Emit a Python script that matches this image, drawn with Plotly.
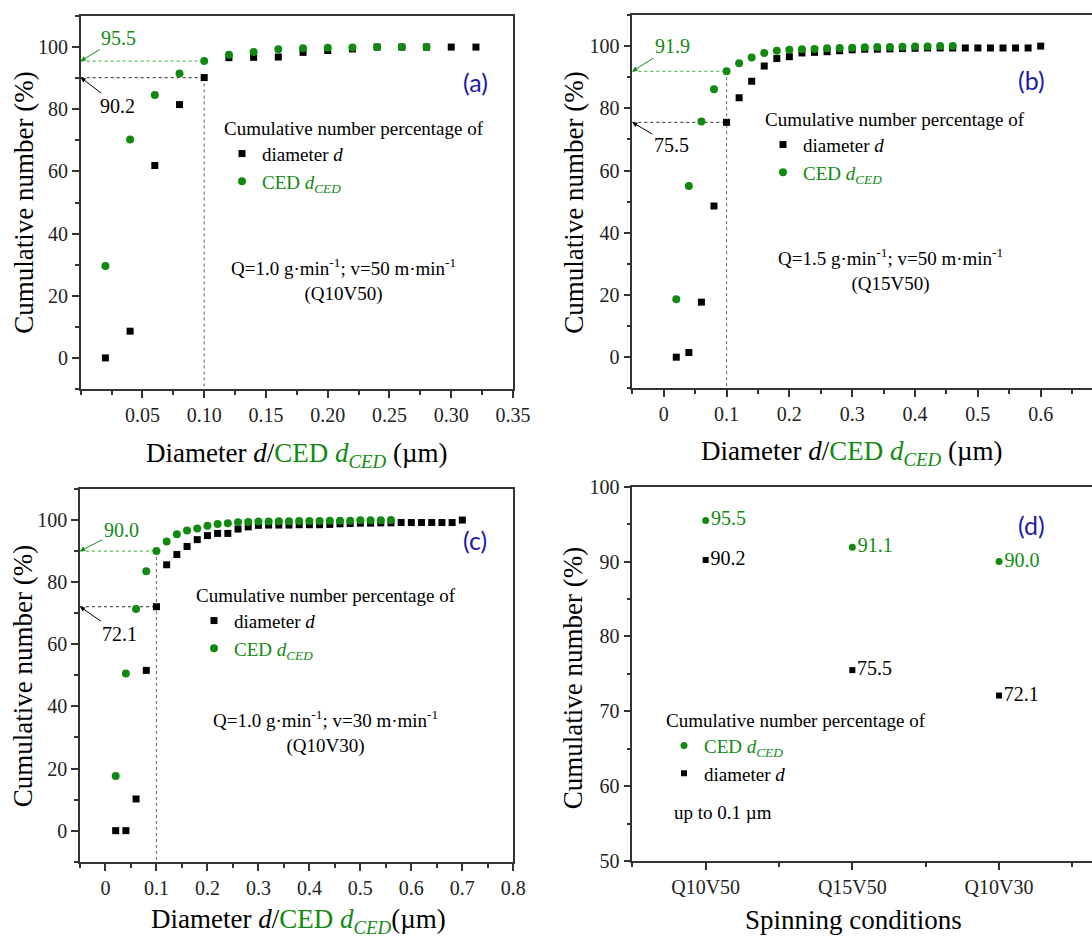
import plotly.graph_objects as go

# ---------------- data ----------------
# panel (a) Q10V50
x_a = [0.02, 0.04, 0.06, 0.08, 0.10, 0.12, 0.14, 0.16, 0.18, 0.20, 0.22, 0.24, 0.26, 0.28, 0.30, 0.32]
d_a = [0, 8.6, 61.9, 81.5, 90.2, 96.6, 96.7, 96.8, 98.3, 98.9, 99.4, 100, 100, 100, 100, 100]
ced_a = [29.6, 70.3, 84.6, 91.5, 95.5, 97.5, 98.4, 99.3, 99.6, 99.8, 99.9, 100, 100, 100]

# panel (b) Q15V50
x_b = [0.02, 0.04, 0.06, 0.08, 0.10, 0.12, 0.14, 0.16, 0.18, 0.20, 0.22, 0.24, 0.26, 0.28, 0.30,
       0.32, 0.34, 0.36, 0.38, 0.40, 0.42, 0.44, 0.46, 0.48, 0.50, 0.52, 0.54, 0.56, 0.58, 0.60]
d_b = [0, 1.5, 17.7, 48.6, 75.5, 83.4, 88.7, 93.6, 96.0, 96.6, 97.8, 98.0, 98.2, 98.5, 98.8,
       99.0, 99.0, 99.1, 99.2, 99.3, 99.4, 99.4, 99.4, 99.4, 99.4, 99.4, 99.4, 99.4, 99.4, 100]
ced_b = [18.6, 55.0, 75.8, 86.1, 91.9, 94.5, 96.3, 97.8, 98.5, 98.8, 99.0, 99.1, 99.3, 99.4, 99.5,
         99.6, 99.7, 99.7, 99.8, 99.9, 99.9, 100, 100]

# panel (c) Q10V30
x_c = [0.02, 0.04, 0.06, 0.08, 0.10, 0.12, 0.14, 0.16, 0.18, 0.20, 0.22, 0.24, 0.26, 0.28, 0.30,
       0.32, 0.34, 0.36, 0.38, 0.40, 0.42, 0.44, 0.46, 0.48, 0.50, 0.52, 0.54, 0.56, 0.58, 0.60,
       0.62, 0.64, 0.66, 0.68, 0.70]
d_c = [0, 0, 10.2, 51.6, 72.1, 85.6, 88.9, 91.5, 93.7, 95.0, 95.7, 95.7, 97.1, 97.8, 98.3,
       98.4, 98.4, 98.4, 98.5, 98.5, 98.5, 98.6, 98.8, 98.9, 99.0, 99.0, 99.1, 99.1, 99.2, 99.2,
       99.2, 99.2, 99.2, 99.2, 100]
ced_c = [17.6, 50.6, 71.4, 83.5, 90.0, 93.1, 95.4, 96.6, 97.3, 98.2, 98.7, 99.0, 99.3, 99.4, 99.5,
         99.5, 99.6, 99.6, 99.7, 99.7, 99.7, 99.8, 99.8, 99.8, 99.9, 99.9, 99.9, 100]

# panel (d) summary up to 0.1 um
conditions = ["Q10V50", "Q15V50", "Q10V30"]
ced_d = [95.5, 91.9, 90.0]
ced_d_labels = ["95.5", "91.1", "90.0"]
d_d = [90.2, 75.5, 72.1]
d_d_labels = ["90.2", "75.5", "72.1"]

threshold = 0.10

x_ticks_a = [0.05, 0.10, 0.15, 0.20, 0.25, 0.30, 0.35]
x_ticktext_a = ["0.05", "0.10", "0.15", "0.20", "0.25", "0.30", "0.35"]
x_ticks_b = [0.0, 0.1, 0.2, 0.3, 0.4, 0.5, 0.6]
x_ticks_c = [0.0, 0.1, 0.2, 0.3, 0.4, 0.5, 0.6, 0.7, 0.8]

# ---------------- style ----------------
GREEN = "#128a12"
BLACK = "#000000"
SERIF = "Liberation Serif"
AX = "#333333"
W, H = 1092, 938


def px_x(p):
    return p / W


def px_y(p):
    return 1 - p / H


dom = {
    "a": ([px_x(80.7), px_x(513)], [px_y(389), px_y(16)]),
    "b": ([px_x(632.3), 1.0], [px_y(388.3), px_y(15)]),
    "c": ([px_x(80), px_x(513.3)], [px_y(861.7), px_y(489)]),
    "d": ([px_x(632.3), 1.0], [px_y(861), px_y(486.7)]),
}

fig = go.Figure()

sq = dict(symbol="square", size=7, color=BLACK)
ci = dict(symbol="circle", size=8, color=GREEN)

d_name = "diameter <i>d</i>"
ced_name = '<span style="color:%s">CED <i>d<sub>CED</sub></i></span>' % GREEN

panels = [
    ("x", "y", "legend", x_a, d_a, ced_a),
    ("x2", "y2", "legend2", x_b, d_b, ced_b),
    ("x3", "y3", "legend3", x_c, d_c, ced_c),
]
for xr, yr, lg, xs, ds, cs in panels:
    fig.add_trace(go.Scatter(x=xs[:len(ds)], y=ds, mode="markers", marker=sq, name=d_name,
                             xaxis=xr, yaxis=yr, legend=lg, cliponaxis=False))
    fig.add_trace(go.Scatter(x=xs[:len(cs)], y=cs, mode="markers", marker=ci, name=ced_name,
                             xaxis=xr, yaxis=yr, legend=lg, cliponaxis=False))

# panel d
xd = list(range(len(conditions)))
fig.add_trace(go.Scatter(x=xd, y=ced_d, mode="markers+text", marker=dict(symbol="circle", size=7, color=GREEN),
                         text=ced_d_labels, textposition="middle right",
                         textfont=dict(family=SERIF, size=20, color=GREEN),
                         name=ced_name, xaxis="x4", yaxis="y4", legend="legend4"))
fig.add_trace(go.Scatter(x=xd, y=d_d, mode="markers+text", marker=dict(symbol="square", size=6, color=BLACK),
                         text=d_d_labels, textposition="middle right",
                         textfont=dict(family=SERIF, size=20, color=BLACK),
                         name=d_name, xaxis="x4", yaxis="y4", legend="legend4"))

tickfont = dict(family=SERIF, size=20, color="#222")


def xax(domain, anchor, rng, tickvals, ticktext=None, minor_dtick=None, mirror=True):
    d = dict(domain=domain, anchor=anchor, range=rng, showline=True, linecolor=AX, linewidth=1.6,
             mirror=mirror, ticks="outside", ticklen=7, tickwidth=1.5, tickcolor=AX,
             showgrid=False, zeroline=False, tickfont=tickfont, tickmode="array", tickvals=tickvals,
             automargin=False)
    if ticktext is not None:
        d["ticktext"] = ticktext
    if minor_dtick is not None:
        d["minor"] = dict(dtick=minor_dtick, tick0=0, ticks="outside", ticklen=4, tickwidth=1.5,
                          tickcolor=AX, showgrid=False)
    return d


def yax(domain, anchor, rng, dtick, minor_dtick, mirror=True):
    return dict(domain=domain, anchor=anchor, range=rng, showline=True, linecolor=AX, linewidth=1.6,
                mirror=mirror, ticks="outside", ticklen=7, tickwidth=1.5, tickcolor=AX,
                showgrid=False, zeroline=False, tickfont=tickfont, dtick=dtick, tick0=0,
                automargin=False,
                minor=dict(dtick=minor_dtick, tick0=0, ticks="outside", ticklen=4, tickwidth=1.5,
                           tickcolor=AX, showgrid=False))


b_xmax = -0.05 + (1092 - 632.3) / 628.3
d_xmax = -0.5 + (1092 - 632.3) / 146.7

fig.update_layout(
    xaxis=xax(dom["a"][0], "y", [0, 0.35], x_ticks_a, x_ticktext_a, 0.025),
    yaxis=yax(dom["a"][1], "x", [-10, 110], 20, 10),
    xaxis2=xax(dom["b"][0], "y2", [-0.05, b_xmax], x_ticks_b, None, 0.05),
    yaxis2=yax(dom["b"][1], "x2", [-10, 110], 20, 10, mirror=False),
    xaxis3=xax(dom["c"][0], "y3", [-0.05, 0.8], x_ticks_c, None, 0.05),
    yaxis3=yax(dom["c"][1], "x3", [-10, 110], 20, 10),
    xaxis4=xax(dom["d"][0], "y4", [-0.5, d_xmax], xd, conditions, 0.5),
    yaxis4=yax(dom["d"][1], "x4", [50, 100], 10, 5, mirror=False),
)

# legends
leg_common = dict(bgcolor="rgba(0,0,0,0)", borderwidth=0, font=dict(family=SERIF, size=19, color=BLACK),
                  xanchor="left", yanchor="top", tracegroupgap=0, itemclick=False,
                  title=dict(text="Cumulative number percentage of", font=dict(family=SERIF, size=19, color=BLACK)))
fig.update_layout(
    legend=dict(x=px_x(222), y=px_y(110), **leg_common),
    legend2=dict(x=px_x(763), y=px_y(101), **leg_common),
    legend3=dict(x=px_x(194), y=px_y(577), **leg_common),
    legend4=dict(x=px_x(664), y=px_y(702), traceorder="normal", **leg_common),
)

annotations = []
shapes = []

# guide lines and arrow labels
guides = [
    ("x", "y", 0.0, ced_a[x_a.index(threshold)], d_a[x_a.index(threshold)], "d", (38, -23), (37, 28)),
    ("x2", "y2", -0.05, ced_b[x_b.index(threshold)], d_b[x_b.index(threshold)], "g", (40, -25), (39, 23)),
    ("x3", "y3", -0.05, ced_c[x_c.index(threshold)], d_c[x_c.index(threshold)], "g", (41, -21), (39, 27)),
]
for xr, yr, x0, gval, bval, vfrom, goff, boff in guides:
    bottom = -10
    shapes.append(dict(type="line", xref=xr, yref=yr, x0=x0, x1=threshold, y0=gval, y1=gval,
                       line=dict(color="#5fbf5f", width=1.2, dash="dot"), layer="below"))
    shapes.append(dict(type="line", xref=xr, yref=yr, x0=x0, x1=threshold, y0=bval, y1=bval,
                       line=dict(color="#555", width=1.2, dash="dot"), layer="below"))
    top = bval if vfrom == "d" else gval
    shapes.append(dict(type="line", xref=xr, yref=yr, x0=threshold, x1=threshold, y0=top, y1=bottom,
                       line=dict(color="#777", width=1.2, dash="dot"), layer="below"))
    annotations.append(dict(xref=xr, yref=yr, x=x0, y=gval, ax=goff[0], ay=goff[1], text="%.1f" % gval,
                            showarrow=True, arrowhead=2, arrowsize=1, arrowwidth=1, arrowcolor=GREEN,
                            font=dict(family=SERIF, size=20, color=GREEN), standoff=0))
    annotations.append(dict(xref=xr, yref=yr, x=x0, y=bval, ax=boff[0], ay=boff[1], text="%.1f" % bval,
                            showarrow=True, arrowhead=2, arrowsize=1, arrowwidth=1, arrowcolor=BLACK,
                            font=dict(family=SERIF, size=20, color=BLACK), standoff=0))

# panel labels
for lbl, (px, py) in {"(a)": (475, 81.7), "(b)": (1031, 80), "(c)": (475, 540), "(d)": (1031.7, 525)}.items():
    annotations.append(dict(xref="paper", yref="paper", x=px_x(px), y=px_y(py), text=lbl, showarrow=False,
                            xanchor="center", yanchor="middle",
                            font=dict(family="Lato", size=25, color="#1c1ca8")))

# condition texts
cond_texts = [
    ("Q=1.0 g·min<sup>-1</sup>; v=50 m·min<sup>-1</sup><br>(Q10V50)", 343, 280),
    ("Q=1.5 g·min<sup>-1</sup>; v=50 m·min<sup>-1</sup><br>(Q15V50)", 890, 270),
    ("Q=1.0 g·min<sup>-1</sup>; v=30 m·min<sup>-1</sup><br>(Q10V30)", 325, 732),
]
for t, px, py in cond_texts:
    annotations.append(dict(xref="paper", yref="paper", x=px_x(px), y=px_y(py), text=t, showarrow=False,
                            xanchor="center", yanchor="middle", align="center",
                            font=dict(family=SERIF, size=19, color=BLACK)))

annotations.append(dict(xref="paper", yref="paper", x=px_x(672), y=px_y(812), text="up to 0.1 µm",
                        showarrow=False, xanchor="left", yanchor="middle",
                        font=dict(family=SERIF, size=19, color=BLACK)))

# axis titles
ytitle = "Cumulative number (%)"
for px, py in [(23.3, 202.5), (573.3, 202.5), (23.3, 676), (573.3, 678)]:
    annotations.append(dict(xref="paper", yref="paper", x=px_x(px), y=px_y(py), text=ytitle, showarrow=False,
                            textangle=-90, xanchor="center", yanchor="middle",
                            font=dict(family=SERIF, size=27, color=BLACK)))

xt_space = 'Diameter <i>d</i>/<span style="color:%s">CED <i>d<sub>CED</sub></i></span> (µm)' % GREEN
xt_tight = 'Diameter <i>d</i>/<span style="color:%s">CED <i>d<sub>CED</sub></i></span>(µm)' % GREEN
for t, px, py in [(xt_space, 297, 455), (xt_space, 852, 453), (xt_tight, 298, 921),
                  ("Spinning conditions", 853, 920)]:
    annotations.append(dict(xref="paper", yref="paper", x=px_x(px), y=px_y(py), text=t, showarrow=False,
                            xanchor="center", yanchor="middle",
                            font=dict(family=SERIF, size=27, color=BLACK)))

fig.update_layout(
    width=W, height=H,
    margin=dict(l=0, r=0, t=0, b=0, autoexpand=False),
    paper_bgcolor="white", plot_bgcolor="white",
    annotations=annotations, shapes=shapes,
    font=dict(family=SERIF, size=19, color=BLACK),
)

fig.write_html("out.html",
               config={"displayModeBar": False},
               post_script="document.body.style.margin='0';document.body.style.padding='0';"
                           "document.documentElement.style.overflow='hidden';")
